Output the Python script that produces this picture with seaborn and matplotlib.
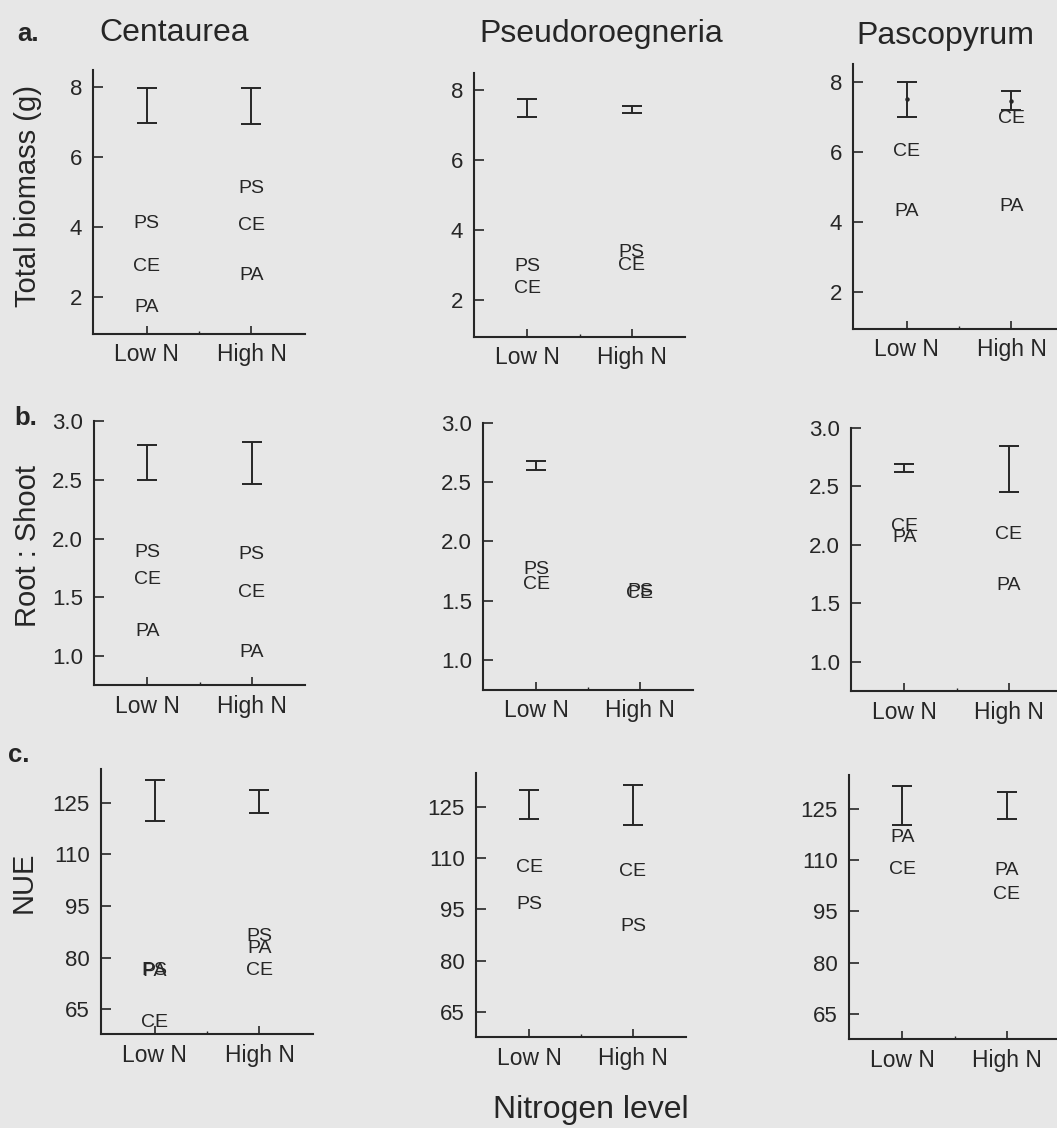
import numpy as np
import pandas as pd
import seaborn as sns
import matplotlib.pyplot as plt

sns.set_theme(style="ticks")
plt.rcParams['font.family'] = ['Liberation Sans', 'DejaVu Sans']

INK = '#262626'
PAPER = '#e7e7e7'

levels = ["Low N", "High N"]
species = ["Centaurea", "Pseudoroegneria", "Pascopyrum"]

# ---- Total biomass (g) ----
cent_bio_codes = ["PS", "CE", "PA"]
cent_bio_low = [4.10, 2.86, 1.69]
cent_bio_high = [5.11, 4.03, 2.60]
cent_bio_bar = [7.48, 7.46]
cent_bio_half = [0.50, 0.51]

pseu_bio_codes = ["PS", "CE"]
pseu_bio_low = [2.97, 2.34]
pseu_bio_high = [3.37, 3.00]
pseu_bio_bar = [7.49, 7.45]
pseu_bio_half = [0.26, 0.10]

pasc_bio_codes = ["CE", "PA"]
pasc_bio_low = [6.00, 4.30]
pasc_bio_high = [6.97, 4.43]
pasc_bio_bar = [7.50, 7.47]
pasc_bio_half = [0.50, 0.27]

# ---- Root : Shoot ----
cent_rs_codes = ["PS", "CE", "PA"]
cent_rs_low = [1.88, 1.65, 1.21]
cent_rs_high = [1.86, 1.54, 1.03]
cent_rs_bar = [2.65, 2.64]
cent_rs_half = [0.15, 0.18]

pseu_rs_codes = ["PS", "CE"]
pseu_rs_low = [1.76, 1.64]
pseu_rs_high = [1.575, 1.565]
pseu_rs_bar = [2.64, np.nan]
pseu_rs_half = [0.04, np.nan]

pasc_rs_codes = ["CE", "PA"]
pasc_rs_low = [2.16, 2.06]
pasc_rs_high = [2.09, 1.65]
pasc_rs_bar = [2.655, 2.65]
pasc_rs_half = [0.035, 0.20]

# ---- NUE ----
cent_nue_codes = ["PS", "PA", "CE"]
cent_nue_low = [76.3, 76.1, 61.0]
cent_nue_high = [86.1, 82.6, 76.2]
cent_nue_bar = [125.75, 125.4]
cent_nue_half = [5.95, 3.4]

pseu_nue_codes = ["CE", "PS"]
pseu_nue_low = [107.1, 96.5]
pseu_nue_high = [106.2, 90.0]
pseu_nue_bar = [125.65, 125.45]
pseu_nue_half = [4.25, 5.95]

pasc_nue_codes = ["PA", "CE"]
pasc_nue_low = [116.5, 107.2]
pasc_nue_high = [107.0, 100.0]
pasc_nue_bar = [125.9, 125.95]
pasc_nue_half = [5.6, 3.95]

panels = [
    # row, col, codes, low, high, bar, half
    (0, 0, cent_bio_codes, cent_bio_low, cent_bio_high, cent_bio_bar, cent_bio_half),
    (0, 1, pseu_bio_codes, pseu_bio_low, pseu_bio_high, pseu_bio_bar, pseu_bio_half),
    (0, 2, pasc_bio_codes, pasc_bio_low, pasc_bio_high, pasc_bio_bar, pasc_bio_half),
    (1, 0, cent_rs_codes, cent_rs_low, cent_rs_high, cent_rs_bar, cent_rs_half),
    (1, 1, pseu_rs_codes, pseu_rs_low, pseu_rs_high, pseu_rs_bar, pseu_rs_half),
    (1, 2, pasc_rs_codes, pasc_rs_low, pasc_rs_high, pasc_rs_bar, pasc_rs_half),
    (2, 0, cent_nue_codes, cent_nue_low, cent_nue_high, cent_nue_bar, cent_nue_half),
    (2, 1, pseu_nue_codes, pseu_nue_low, pseu_nue_high, pseu_nue_bar, pseu_nue_half),
    (2, 2, pasc_nue_codes, pasc_nue_low, pasc_nue_high, pasc_nue_bar, pasc_nue_half),
]

row_ylim = [(0.95, 8.5), (0.75, 3.0), (57.8, 134.8)]
row_ticks = [[2, 4, 6, 8], [1.0, 1.5, 2.0, 2.5, 3.0], [65, 80, 95, 110, 125]]
row_fmt = ["{:.0f}", "{:.1f}", "{:.0f}"]

W, H = 1057, 1128
fig = plt.figure(figsize=(W / 100, H / 100), dpi=100, facecolor=PAPER)

# axes frames in pixels: left, right, top, bottom
frames = {
    (0, 0): (93, 305, 69.5, 333.75),
    (0, 1): (474, 685, 72.5, 336.75),
    (0, 2): (853, 1065, 64.5, 328.75),
    (1, 0): (94, 305, 421, 685.4),
    (1, 1): (483, 693, 423, 689.6),
    (1, 2): (851, 1062, 428, 691),
    (2, 0): (101, 313, 769, 1034),
    (2, 1): (476, 686, 773, 1037),
    (2, 2): (849, 1060, 775, 1039),
}

xpos = {lvl: i + 1 for i, lvl in enumerate(levels)}

for row, col, codes, low, high, bar, half in panels:
    l, r, t, b = frames[(row, col)]
    ax = fig.add_axes([l / W, 1 - b / H, (r - l) / W, (b - t) / H])
    ax.set_facecolor('none')

    long = pd.DataFrame({
        "code": codes * 2,
        "level": ["Low N"] * len(codes) + ["High N"] * len(codes),
        "value": list(low) + list(high),
    })
    long["x"] = long["level"].map(xpos)
    for _, rec in long.iterrows():
        ax.text(rec["x"], rec["value"], rec["code"], ha='center', va='center',
                fontsize=14, color=INK)

    bars = pd.DataFrame({"x": [xpos[v] for v in levels], "mid": bar, "half": half})
    show_dot = (row == 0 and col == 2)
    ax.errorbar(bars["x"], bars["mid"], yerr=bars["half"],
                fmt='o' if show_dot else 'none', ms=2.2, color=INK, ecolor=INK,
                elinewidth=1.4, capsize=7, capthick=1.4)

    ax.set_xlim(0.49, 2.51)
    ax.set_ylim(*row_ylim[row])
    ax.set_yticks(row_ticks[row])
    ax.set_yticklabels([row_fmt[row].format(v) for v in row_ticks[row]],
                       fontsize=16, color=INK)
    ax.set_xticks([1, 2])
    ax.set_xticklabels(levels, fontsize=16.5, color=INK)
    ax.set_xticks([1.5], minor=True)

    sns.despine(ax=ax)
    for side in ("left", "bottom"):
        ax.spines[side].set_color(INK)
        ax.spines[side].set_linewidth(1.5)
    ax.tick_params(axis='y', direction='in', length=7, width=1.2, color=INK, pad=8)
    ax.tick_params(axis='x', which='major', direction='in', length=5.5, width=1.2,
                   color=INK, pad=7)
    ax.tick_params(axis='x', which='minor', direction='in', length=2, width=1.0,
                   color=INK)

# column titles
fig.text(174 / W, 1 - 41 / H, species[0], fontsize=23, color=INK, ha='center', va='baseline')
fig.text(601 / W, 1 - 42 / H, species[1], fontsize=23, color=INK, ha='center', va='baseline')
fig.text(945 / W, 1 - 44 / H, species[2], fontsize=23, color=INK, ha='center', va='baseline')

# panel letters
fig.text(17 / W, 1 - 41 / H, "a.", fontsize=18.5, fontweight='bold', color=INK, va='baseline')
fig.text(14 / W, 1 - 425 / H, "b.", fontsize=18.5, fontweight='bold', color=INK, va='baseline')
fig.text(8 / W, 1 - 762 / H, "c.", fontsize=18.5, fontweight='bold', color=INK, va='baseline')

# row labels
fig.text(28 / W, 1 - 196 / H, "Total biomass (g)", fontsize=21, color=INK,
         rotation=90, ha='center', va='center')
fig.text(28 / W, 1 - 546 / H, "Root : Shoot", fontsize=21, color=INK,
         rotation=90, ha='center', va='center')
fig.text(24 / W, 1 - 882 / H, "NUE", fontsize=21, color=INK,
         rotation=90, ha='center', va='center')

fig.text(591 / W, 1 - 1118 / H, "Nitrogen level", fontsize=23, color=INK,
         ha='center', va='baseline')

fig.savefig("out.png", dpi=100, facecolor=PAPER)
